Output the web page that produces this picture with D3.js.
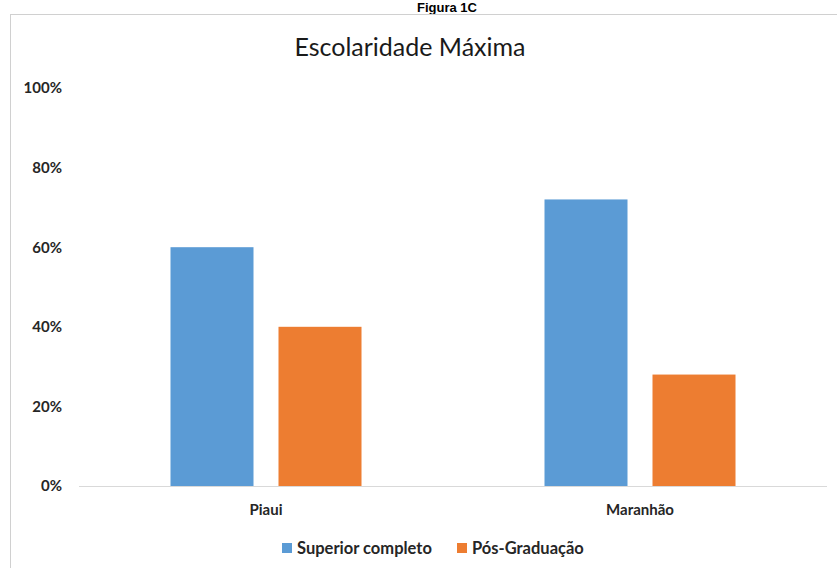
<!DOCTYPE html>
<html>
<head>
<meta charset="utf-8">
<script src="https://cdn.jsdelivr.net/npm/d3@7"></script>
<style>
  body { margin: 0; background: #fff; }
  svg text { font-family: Lato, "Noto Sans", sans-serif; }
</style>
</head>
<body>
<div id="chart"></div>
<script>
// Escolaridade maxima, Piaui vs Maranhao
const categories = ["Piaui", "Maranhão"];
const series = ["Superior completo", "Pós-Graduação"];
const superiorValues = [0.60, 0.72];
const posValues = [0.40, 0.28];
const yTicks = [0, 0.2, 0.4, 0.6, 0.8, 1.0];
const colors = ["#5B9BD5", "#ED7D31"];

const width = 837, height = 568;

const svg = d3.select("#chart")
    .append("svg")
    .attr("width", width)
    .attr("height", height);

// outer figure caption
svg.append("text")
    .attr("x", 447)
    .attr("y", 12)
    .attr("text-anchor", "middle")
    .style("font-family", "Arial, 'Liberation Sans', sans-serif")
    .style("font-weight", "bold")
    .style("font-size", "13px")
    .attr("fill", "#000")
    .text("Figura 1C");

// chart frame
svg.append("rect")
    .attr("x", 10.5)
    .attr("y", 14.5)
    .attr("width", 840)
    .attr("height", 570)
    .attr("fill", "#fff")
    .attr("stroke", "#d0d0d0");

svg.append("text")
    .attr("x", 410)
    .attr("y", 56)
    .attr("text-anchor", "middle")
    .style("font-size", "25px")
    .attr("fill", "#1a1a1a")
    .text("Escolaridade Máxima");

const x0 = d3.scaleBand()
    .domain(categories)
    .range([79, 827]);

const groupW = 191;
const x1 = d3.scaleBand()
    .domain(series)
    .range([0, groupW])
    .paddingInner(25 / 108);

const y = d3.scaleLinear()
    .domain([0, 1])
    .range([486, 88]);

// y labels
svg.append("g")
    .attr("transform", "translate(62,0)")
    .call(d3.axisLeft(y).tickValues(yTicks).tickFormat(d3.format(".0%")).tickSize(0).tickPadding(0))
    .call(g => g.select(".domain").remove())
    .call(g => g.selectAll("text")
        .style("font-family", "Lato, 'Noto Sans', sans-serif")
        .style("font-size", "15px")
        .style("font-weight", "bold")
        .attr("fill", "#262626"));

const rows = categories.map((c, i) => ({cat: c, vals: [superiorValues[i], posValues[i]]}));

const groups = svg.selectAll(".grp")
    .data(rows)
    .join("g")
    .attr("class", "grp")
    .attr("transform", d => `translate(${x0(d.cat) + (x0.bandwidth() - groupW) / 2},0)`);

groups.selectAll("rect")
    .data(d => d.vals.map((v, j) => ({key: series[j], v: v, j: j})))
    .join("rect")
    .attr("x", d => x1(d.key))
    .attr("y", d => y(d.v))
    .attr("width", x1.bandwidth())
    .attr("height", d => y(0) - y(d.v))
    .attr("fill", d => colors[d.j]);

// baseline
svg.append("line")
    .attr("x1", x0.range()[0])
    .attr("x2", x0.range()[1])
    .attr("y1", y(0) + 0.5)
    .attr("y2", y(0) + 0.5)
    .attr("stroke", "#d9d9d9");

// category axis
svg.append("g")
    .attr("transform", `translate(0,${y(0)})`)
    .call(d3.axisBottom(x0).tickSize(0).tickPadding(18))
    .call(g => g.select(".domain").remove())
    .call(g => g.selectAll("text")
        .style("font-family", "Lato, 'Noto Sans', sans-serif")
        .style("font-size", "15px")
        .style("font-weight", "bold")
        .attr("fill", "#262626"));

// legend
const legendX = [282, 457];
const legend = svg.selectAll(".leg")
    .data(series)
    .join("g")
    .attr("class", "leg")
    .attr("transform", (d, i) => `translate(${legendX[i]},548)`);

legend.append("rect")
    .attr("x", 0)
    .attr("y", -5)
    .attr("width", 10)
    .attr("height", 10)
    .attr("fill", (d, i) => colors[i]);

legend.append("text")
    .attr("x", 15)
    .attr("y", 5.5)
    .style("font-size", "16.5px")
    .style("font-weight", "bold")
    .attr("fill", "#262626")
    .text(d => d);
</script>
</body>
</html>
